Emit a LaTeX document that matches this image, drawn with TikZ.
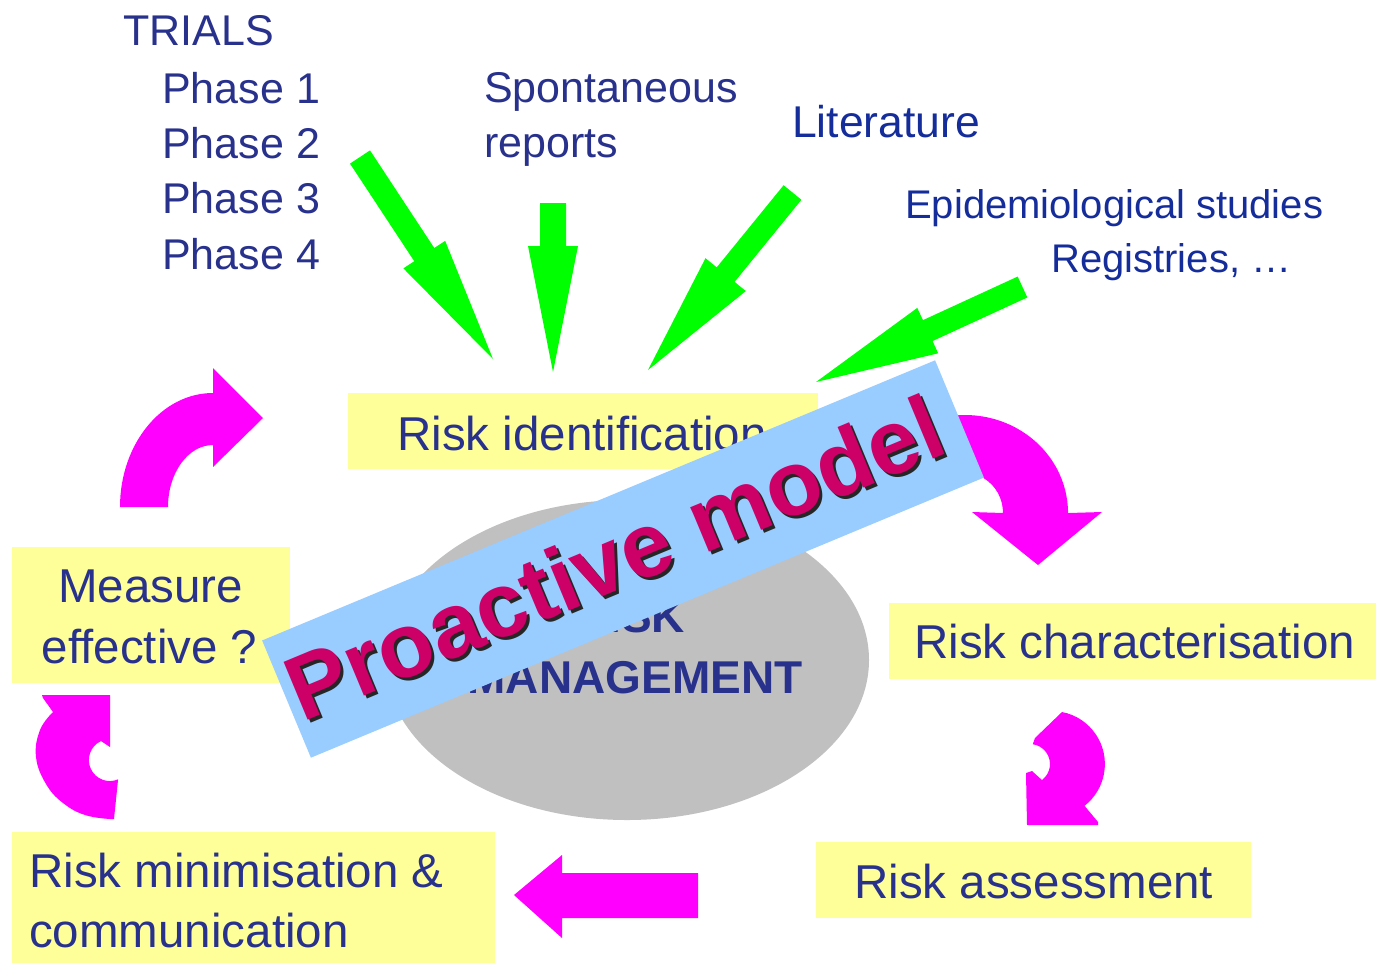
\documentclass[tikz,border=0pt]{standalone}
\usepackage{fontspec}
\setmainfont{Liberation Sans}
\usetikzlibrary{calc,shapes.geometric}
\definecolor{navy}{RGB}{40,50,140}
\definecolor{navyb}{RGB}{20,45,155}
\definecolor{boxyellow}{RGB}{255,255,153}
\definecolor{arrowmagenta}{RGB}{255,0,255}
\definecolor{arrowgreen}{RGB}{0,255,0}
\definecolor{coregrey}{RGB}{192,192,192}
\definecolor{bannerblue}{RGB}{153,204,255}
\definecolor{crimson}{RGB}{204,0,102}
\newcommand{\greenarrow}[6]{%
  \coordinate (#1t) at #2;
  \coordinate (#1p) at #3;
  \coordinate (#1b) at ($(#1p)!#6!(#1t)$);
  \fill[src] ($(#1t)!#4!90:(#1p)$) -- ($(#1b)!#4!90:(#1p)$) -- ($(#1b)!#5!90:(#1p)$)
    -- (#1p) -- ($(#1b)!#5!-90:(#1p)$) -- ($(#1b)!#4!-90:(#1p)$) -- ($(#1t)!#4!-90:(#1p)$) -- cycle;}
\tikzset{
  lbl/.style={text=navy, inner sep=0pt, font=\fontsize{43}{52}\selectfont},
  lblb/.style={text=navyb, inner sep=0pt, font=\fontsize{40}{48}\selectfont},
  boxtxt/.style={text=navy, inner sep=0pt, font=\fontsize{47.5}{57}\selectfont},
  ybox/.style={fill=boxyellow, draw=none, inner sep=0pt},
  coretxt/.style={text=navy, inner sep=0pt, font=\bfseries\fontsize{46}{55}\selectfont},
  cyc/.style={fill=arrowmagenta},
  src/.style={fill=arrowgreen},
  ptext/.style={font=\bfseries\fontsize{91}{104}\selectfont, text=crimson, inner sep=0pt},
}
\begin{document}
\begin{tikzpicture}[x=1pt,y=-1pt]
\useasboundingbox (0,0) rectangle (1376,962);
\fill[white] (0,0) rectangle (1376,962);

% central ellipse
\node[ellipse, fill=coregrey, draw=none, inner sep=0pt, minimum width=484pt, minimum height=320pt] (core) at (627,660) {};
\node[coretxt, anchor=base] (coreA) at (630,632) {RISK};
\node[coretxt, anchor=base] (coreB) at (635,693) {MANAGEMENT};

% source labels
\node[lbl, anchor=base west] (trials) at (123,45) {TRIALS};
\node[lbl, anchor=base west] (ph1) at (162,103) {Phase 1};
\node[lbl, anchor=base west] (ph2) at (162,158) {Phase 2};
\node[lbl, anchor=base west] (ph3) at (162,213) {Phase 3};
\node[lbl, anchor=base west] (ph4) at (162,269) {Phase 4};
\node[lbl, anchor=base west] (spon1) at (484,102) {Spontaneous};
\node[lbl, anchor=base west] (spon2) at (484,157) {reports};
\node[lbl, text=navyb, font=\fontsize{44.5}{52}\selectfont, anchor=base west] (lit) at (792,137) {Literature};
\node[lblb, anchor=base west] (epi) at (905,218) {Epidemiological studies};
\node[lblb, anchor=base west] (reg) at (1051,272) {Registries, …};

% boxes
\node[ybox, minimum width=470pt, minimum height=76pt] (idBox) at (583,431) {};
\node[boxtxt, anchor=base west] (idTxt) at (397,450) {Risk identification};
\node[ybox, minimum width=278pt, minimum height=136pt] (measBox) at (151,615) {};
\node[boxtxt, anchor=base] (measTxtA) at (150.5,602) {Measure};
\node[boxtxt, anchor=base] (measTxtB) at (149.5,663) {effective ?};
\node[ybox, minimum width=491pt, minimum height=76pt] (charBox) at (1134.5,641) {};
\node[boxtxt, anchor=base west] (charTxt) at (914,658) {Risk characterisation};
\node[ybox, minimum width=435pt, minimum height=76pt] (assBox) at (1033.5,880) {};
\node[boxtxt, anchor=base west] (assTxt) at (854,898) {Risk assessment};
\node[ybox, minimum width=483pt, minimum height=133pt] (minBox) at (253.5,898.5) {};
\node[boxtxt, anchor=base west] (minTxtA) at (29,887) {Risk minimisation \&};
\node[boxtxt, anchor=base west] (minTxtB) at (29,947) {communication};

% cycle arrows (magenta)
\fill[cyc] (120,507) arc[start angle=180, end angle=90, x radius=93pt, y radius=114pt]
  -- (213,368) -- (263,418) -- (213,467) -- (213,445)
  arc[start angle=90, end angle=180, x radius=45pt, y radius=62pt] -- cycle;
\fill[cyc] (921.5,424.2) arc[start angle=115, end angle=0, x radius=103pt, y radius=98pt]
  -- (1102,512) -- (1038,565) -- (972,512) -- (1003,513)
  arc[start angle=0, end angle=115, x radius=38pt, y radius=40pt] -- cycle;
\fill[cyc] (1062,712) arc[start angle=79, end angle=-52, radius=53pt]
  -- (1098,822) -- (1098,825) -- (1027,825) -- (1026,773) -- (1032,771) -- (1042,780)
  arc[start angle=-53, end angle=82, radius=20pt] -- (1035,738) -- cycle;
\fill[cyc] (514,895) -- (562,855) -- (562,873) -- (698,873) -- (698,918) -- (562,918) -- (562,938) -- cycle;
\fill[cyc] (42,695) -- (110,695) -- (110,747) -- (101,741)
  arc[start angle=115, end angle=293, radius=21pt] -- (114,819)
  -- plot[smooth, tension=0.7] coordinates {(110,819) (85,815) (63,803) (46,784) (36,757) (40,730) (53,712)}
  -- (43,698) -- cycle;

% source arrows (green)
\greenarrow{ga}{(360,157)}{(493,359)}{12pt}{25pt}{125pt}
\greenarrow{gb}{(553,203)}{(553,372)}{13pt}{25pt}{126pt}
\greenarrow{gc}{(792.5,192.5)}{(648,370)}{11.5pt}{26pt}{123pt}
\greenarrow{gd}{(1022.5,287)}{(816,382)}{11.5pt}{25pt}{123pt}

% banner
\node[rotate=22.6, fill=bannerblue, draw=none, inner sep=0pt, minimum width=729pt, minimum height=127pt] (banner) at (623,559) {};
\node[ptext, text=black!85, rotate=22.6] (pmShadow) at (617,560) {Proactive model};
\node[ptext, rotate=22.6] (pm) at (614,557) {Proactive model};
\end{tikzpicture}
\end{document}
